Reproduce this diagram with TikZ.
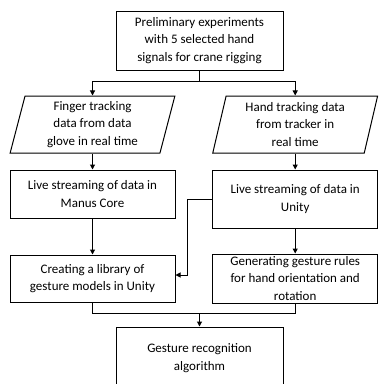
\documentclass[tikz,border=0pt]{standalone}
\usepackage{fontspec}
\setmainfont{Carlito}
\usetikzlibrary{positioning,arrows.meta,shapes.geometric,calc}

\begin{document}
\begin{tikzpicture}[
    procbox/.style={draw, line width=1pt, fill=white, align=center,
        inner sep=1pt, minimum width=165pt,
        font=\fontsize{13}{17.5}\selectfont},
    databox/.style={procbox, trapezium, trapezium left angle=78,
        trapezium right angle=102, trapezium stretches=true},
    flow/.style={-{Triangle[length=5pt,width=5pt]}, line width=1pt},
    link/.style={line width=1pt},
]
\useasboundingbox (0,0) rectangle (388pt,-383pt);

% Start box
\node[procbox, minimum width=167pt, minimum height=59pt] (prelim)
    at (199.5pt,-40.5pt) {Preliminary experiments\\with 5 selected hand\\signals for crane rigging};

% Two input branches
\node[databox, minimum height=57pt] (finger) at (92.5pt,-124.5pt)
    {Finger tracking\\data from data\\glove in real time};
\node[databox, minimum height=57pt, right=51pt of finger] (tracker)
    {Hand tracking data\\from tracker in\\real time};

\node[procbox, minimum height=48pt, below=16pt of finger] (manus)
    {Live streaming of data in\\Manus Core};
\node[procbox, minimum height=58pt, below=16pt of tracker] (unity)
    {Live streaming of data in\\Unity};

\node[procbox, minimum height=47pt, below=36pt of manus] (library)
    {Creating a library of\\gesture models in Unity};
\node[procbox, minimum height=49pt, below=25pt of unity] (rules)
    {Generating gesture rules\\for hand orientation and\\rotation};

% End box
\node[procbox, minimum width=167pt, minimum height=62pt] (gesture)
    at (199.5pt,-358pt) {Gesture recognition\\algorithm};

% Split arrows
\coordinate (split) at ($(prelim.south)+(0,-11pt)$);
\draw[link] (prelim.south) -- (split);
\draw[flow] (split) -| (finger.north);
\draw[flow] (split) -| (tracker.north);

% Straight arrows
\draw[flow] (finger.south) -- (manus.north);
\draw[flow] (tracker.south) -- (unity.north);
\draw[flow] (manus.south) -- (library.north);
\draw[flow] (unity.south) -- (rules.north);

% Unity data into the library
\draw[flow] (unity.west) -- ++(-25pt,0) |- ([yshift=3.5pt]library.east);

% Merge arrows
\coordinate (merge) at ($(gesture.north)+(0,13pt)$);
\draw[link] (library.south) |- (merge) -| (rules.south);
\draw[flow] (merge) -- (gesture.north);

\end{tikzpicture}
\end{document}
